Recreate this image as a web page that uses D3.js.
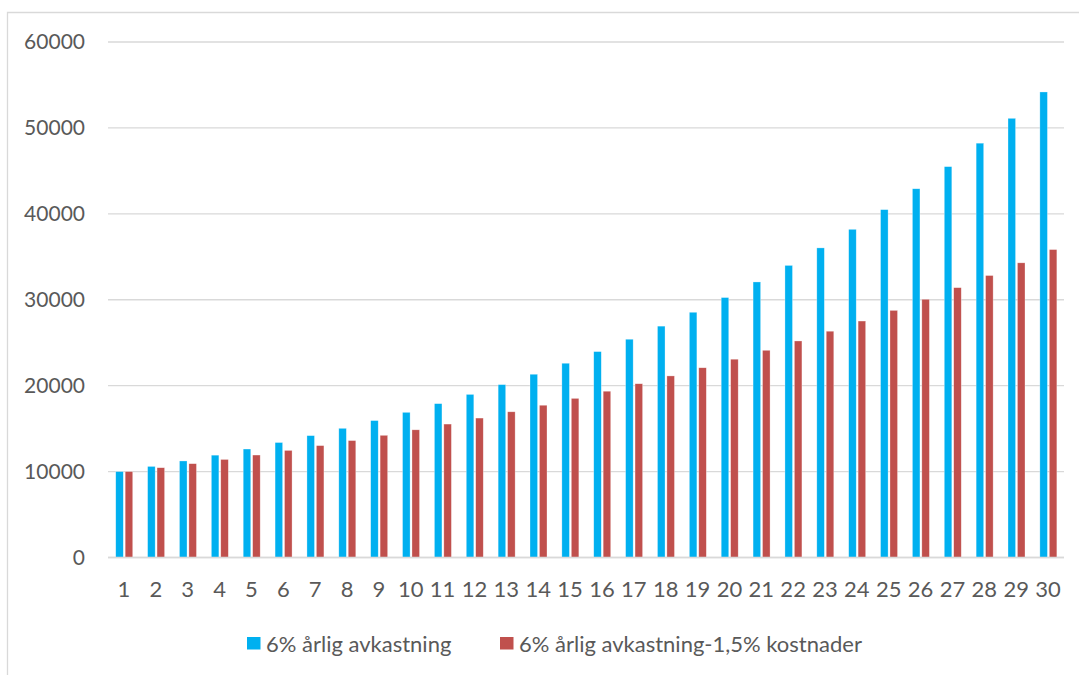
<!DOCTYPE html>
<html>
<head>
<meta charset="utf-8">
<script src="https://cdn.jsdelivr.net/npm/d3@7"></script>
<style>
  html, body { margin: 0; padding: 0; background: #fff; }
  svg { display: block; }
  text { font-family: Lato, "Open Sans", sans-serif; fill: #595959; }
</style>
</head>
<body>
<svg id="chart" width="1079" height="675"></svg>
<script>
// Year index along the x axis
const years = d3.range(1, 31).map(String);

// Portfolio value per year, 6% annual return
const seriesA = [10000, 10600, 11236, 11910, 12625, 13382, 14185, 15036, 15938, 16895,
                 17908, 18983, 20122, 21329, 22609, 23966, 25404, 26928, 28543, 30256,
                 32071, 33996, 36035, 38197, 40489, 42919, 45494, 48223, 51117, 54184];

// Portfolio value per year, 6% return minus 1.5% costs
const seriesB = [10000, 10450, 10920, 11412, 11925, 12462, 13023, 13609, 14221, 14861,
                 15530, 16229, 16959, 17722, 18519, 19353, 20224, 21134, 22085, 23079,
                 24117, 25202, 26337, 27522, 28760, 30054, 31407, 32820, 34297, 35840];

const seriesNames = ["6% årlig avkastning", "6% årlig avkastning-1,5% kostnader"];
const seriesColors = ["#00B0F0", "#C0504D"];
const yTicks = [0, 10000, 20000, 30000, 40000, 50000, 60000];

const rows = years.map((y, i) => ({ year: y, values: [seriesA[i], seriesB[i]] }));

const svg = d3.select("#chart");

// Outer chart frame (only the left and top edges fall inside the view)
svg.append("path")
  .attr("d", "M7.5,675 L7.5,12.5 L1079,12.5")
  .attr("fill", "none")
  .attr("stroke", "#d9d9d9")
  .attr("stroke-width", 1.3);

const plot = { left: 108, right: 1064, top: 42, bottom: 557.5 };

const x = d3.scaleBand().domain(years).range([plot.left, plot.right]).padding(0);
const groupW = x.bandwidth() * 0.533;
const xs = d3.scaleBand().domain([0, 1]).range([0, groupW]).paddingInner(0.2);
const y = d3.scaleLinear().domain([0, 60000]).range([plot.bottom, plot.top]);

// Horizontal gridlines
svg.append("g")
  .selectAll("line")
  .data(yTicks)
  .join("line")
  .attr("x1", plot.left)
  .attr("x2", plot.right)
  .attr("y1", d => y(d))
  .attr("y2", d => y(d))
  .attr("stroke", "#d9d9d9")
  .attr("stroke-width", 1.3);

// Y axis labels
const yAxis = svg.append("g")
  .attr("transform", `translate(${plot.left},0)`)
  .call(d3.axisLeft(y).tickValues(yTicks).tickSize(0).tickPadding(23).tickFormat(d3.format("d")));
yAxis.select(".domain").remove();
yAxis.selectAll("text")
  .style("font-family", "Lato, 'Open Sans', sans-serif")
  .style("font-size", "21px")
  .attr("fill", "#595959");

// Bars
const groups = svg.append("g")
  .selectAll("g")
  .data(rows)
  .join("g")
  .attr("transform", d => `translate(${x(d.year) + (x.bandwidth() - groupW) / 2 + 0.3},0)`);

groups.selectAll("rect")
  .data(d => d.values.map((v, k) => ({ k, v })))
  .join("rect")
  .attr("x", d => xs(d.k))
  .attr("width", xs.bandwidth())
  .attr("y", d => y(d.v))
  .attr("height", d => y(0) - y(d.v))
  .attr("fill", d => seriesColors[d.k])
  .attr("stroke", "#ffffff")
  .attr("stroke-opacity", 0.5)
  .attr("stroke-width", 0.6);

// Zero baseline drawn over bar bottoms
svg.append("line")
  .attr("x1", plot.left).attr("x2", plot.right)
  .attr("y1", y(0)).attr("y2", y(0))
  .attr("stroke", "#d9d9d9")
  .attr("stroke-width", 1.3);

// X axis labels
const xAxis = svg.append("g")
  .attr("transform", `translate(0,${plot.bottom})`)
  .call(d3.axisBottom(x).tickSize(0));
xAxis.select(".domain").remove();
xAxis.selectAll("text")
  .attr("y", 39)
  .attr("dy", null)
  .style("font-family", "Lato, 'Open Sans', sans-serif")
  .style("font-size", "22px")
  .attr("fill", "#595959");

// Legend
const legendItems = [
  { name: seriesNames[0], color: seriesColors[0], x: 247 },
  { name: seriesNames[1], color: seriesColors[1], x: 500 }
];
const legend = svg.append("g");
legendItems.forEach(it => {
  legend.append("rect")
    .attr("x", it.x).attr("y", 637)
    .attr("width", 13.5).attr("height", 12.5)
    .attr("fill", it.color);
  legend.append("text")
    .attr("x", it.x + 19).attr("y", 652)
    .style("font-size", "22px")
    .text(it.name);
});
</script>
</body>
</html>
